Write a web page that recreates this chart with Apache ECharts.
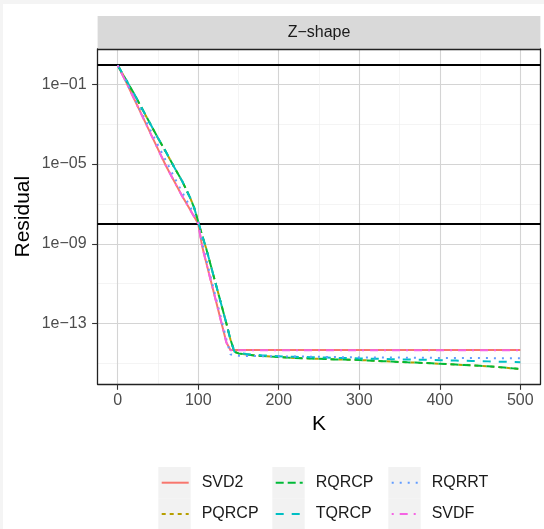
<!DOCTYPE html>
<html><head><meta charset="utf-8">
<script src="https://cdn.jsdelivr.net/npm/echarts@6/dist/echarts.min.js"></script>
<style>
html,body{margin:0;padding:0;background:#f4f4f4;width:544px;height:529px;overflow:hidden}
#c{position:absolute;left:3px;top:4px;width:541px;height:525px;background:#fff}
</style></head><body><div id="c"></div>
<script>
// K values (x)
const K = [0,10,20,30,40,50,60,70,80,90,95,100,105,110,115,120,125,130,135,140,145,150,
  160,170,180,190,200,210,220,230,240,250,260,270,280,290,300,310,320,330,340,350,360,370,380,390,400,
  410,420,430,440,450,460,470,480,490,500];

// log10(Residual), one value per K
const svd2Log10 = [-0.05,-0.85,-1.70,-2.55,-3.40,-4.25,-5.10,-5.85,-6.60,-7.30,-7.65,-8.00,-9.15,-9.95,-10.75,-11.55,-12.35,-13.15,-13.95,-14.33,-14.33,-14.33,
  -14.33,-14.33,-14.33,-14.33,-14.33,-14.33,-14.33,-14.33,-14.33,-14.33,-14.33,-14.33,-14.33,-14.33,-14.33,-14.33,-14.33,-14.33,-14.33,-14.33,-14.33,-14.33,-14.33,-14.33,-14.33,
  -14.33,-14.33,-14.33,-14.33,-14.33,-14.33,-14.33,-14.33,-14.33,-14.33];
const pqrcpLog10 = [-0.05,-0.76,-1.46,-2.21,-2.96,-3.71,-4.41,-5.15,-5.86,-6.70,-7.20,-7.90,-8.60,-9.25,-10.00,-10.75,-11.50,-12.25,-13.00,-13.80,-14.42,-14.50,
  -14.56,-14.60,-14.63,-14.66,-14.68,-14.71,-14.73,-14.74,-14.76,-14.77,-14.78,-14.80,-14.81,-14.82,-14.83,-14.85,-14.87,-14.89,-14.91,-14.93,-14.95,-14.96,-14.98,-15.00,-15.02,
  -15.04,-15.06,-15.08,-15.10,-15.12,-15.15,-15.18,-15.21,-15.25,-15.29];
const rqrcpLog10 = [-0.05,-0.75,-1.45,-2.20,-2.95,-3.70,-4.40,-5.15,-5.85,-6.70,-7.20,-7.90,-8.60,-9.25,-10.00,-10.75,-11.50,-12.25,-13.00,-13.80,-14.42,-14.50,
  -14.56,-14.60,-14.63,-14.66,-14.68,-14.71,-14.73,-14.74,-14.76,-14.77,-14.78,-14.80,-14.81,-14.82,-14.83,-14.85,-14.87,-14.89,-14.91,-14.93,-14.95,-14.96,-14.98,-15.00,-15.02,
  -15.04,-15.06,-15.08,-15.10,-15.12,-15.15,-15.18,-15.21,-15.25,-15.28];
const tqrcpLog10 = [-0.05,-0.75,-1.45,-2.20,-2.95,-3.70,-4.40,-5.15,-5.85,-6.70,-7.20,-7.90,-8.60,-9.25,-10.00,-10.75,-11.50,-12.25,-13.00,-13.80,-14.42,-14.48,
  -14.53,-14.57,-14.60,-14.62,-14.64,-14.66,-14.67,-14.68,-14.69,-14.70,-14.71,-14.72,-14.73,-14.74,-14.75,-14.76,-14.77,-14.78,-14.79,-14.80,-14.80,-14.81,-14.82,-14.83,-14.84,
  -14.85,-14.86,-14.87,-14.88,-14.89,-14.90,-14.91,-14.92,-14.93,-14.94];
const rqrrtLog10 = [-0.05,-0.82,-1.62,-2.45,-3.25,-4.05,-4.85,-5.65,-6.40,-7.15,-7.55,-7.95,-8.95,-9.80,-10.60,-11.40,-12.20,-13.00,-13.80,-14.55,-14.60,-14.62,
  -14.63,-14.63,-14.64,-14.64,-14.65,-14.65,-14.66,-14.66,-14.67,-14.67,-14.68,-14.68,-14.69,-14.69,-14.70,-14.70,-14.70,-14.71,-14.71,-14.71,-14.72,-14.72,-14.72,-14.72,-14.73,
  -14.73,-14.73,-14.73,-14.73,-14.73,-14.73,-14.74,-14.74,-14.74,-14.74];
const svdfLog10 = [-0.06,-0.86,-1.71,-2.56,-3.41,-4.26,-5.10,-5.86,-6.61,-7.31,-7.66,-8.01,-9.16,-9.96,-10.76,-11.56,-12.36,-13.16,-13.96,-14.34,-14.34,-14.34,
  -14.34,-14.34,-14.34,-14.34,-14.34,-14.34,-14.34,-14.34,-14.34,-14.34,-14.34,-14.34,-14.34,-14.34,-14.34,-14.34,-14.34,-14.34,-14.34,-14.34,-14.34,-14.34,-14.34,-14.34,-14.34,
  -14.34,-14.34,-14.34,-14.34,-14.34,-14.34,-14.34,-14.34,-14.34,-14.34];

const seriesNames = ['SVD2','PQRCP','RQRCP','TQRCP','RQRRT','SVDF'];
const seriesData = [svd2Log10, pqrcpLog10, rqrcpLog10, tqrcpLog10, rqrrtLog10, svdfLog10];
const hlines = [1, 1e-8];
const xTicks = [0,100,200,300,400,500];
const xMinor = [50,150,250,350,450];
const yTickExps = [-13,-9,-5,-1];
const yMinorExps = [-15,-11,-7,-3];
const panelTitle = 'Z\u2212shape';
const xTitle = 'K';
const yTitle = 'Residual';

const colors = ['#F8766D','#B79F00','#00BA38','#00BFC4','#619CFF','#F564E3'];
const dashes = ['solid',[4,4],[8,4],[8,8],[2,6],[2,6,8,6]];
const FONT = '"Liberation Sans", Arial, Helvetica, sans-serif';

const G = {left:94.6, right:3.6, top:45, bottom:144.7};
const W = 541, H = 525;
const pw = W - G.left - G.right;

function fmtExp(v){
  const e = Math.round(v);
  return '1e' + (e < 0 ? '\u2212' : '+') + String(Math.abs(e)).padStart(2,'0');
}

const series = seriesNames.map((n,i)=>({
  name:n, type:'line', xAxisIndex:0, yAxisIndex:0,
  data:K.map((k,j)=>[k, seriesData[i][j]]),
  symbol:'none', showSymbol:false, animation:false,
  lineStyle:{color:colors[i], width:2, type:dashes[i], cap:'butt'},
  itemStyle:{color:colors[i]},
  z:3+i
}));
series.push({
  name:'hline', type:'line', data:[], xAxisIndex:0, yAxisIndex:0,
  markLine:{symbol:'none', silent:true, animation:false, label:{show:false},
    lineStyle:{color:'#000', width:2, type:'solid'},
    data:hlines.map(v=>({yAxis:Math.log10(v)}))},
  z:10
});

const legendLeft = [157.7, 271.7, 387.7];
const keyX = [155.3, 269.3, 385.3];
const rowC = [478.7, 510];
const legends = [0,1,2].map(c=>({
  data:[seriesNames[2*c], seriesNames[2*c+1]],
  orient:'vertical', left:legendLeft[c], top:rowC[0]-8,
  itemWidth:27, itemHeight:16, itemGap:15.3, padding:0,
  selectedMode:false,
  itemStyle:{opacity:0},
  textStyle:{fontFamily:FONT, fontSize:16, color:'#1a1a1a', lineHeight:16, padding:[0,0,0,8]}
}));

const graphics = [];
keyX.forEach(x=>rowC.forEach(y=>graphics.push({type:'rect', shape:{x:x, y:y-15.65, width:32.4, height:31.3}, style:{fill:'#f2f2f2'}, z:-1})));
graphics.push({type:'rect', shape:{x:G.left, y:12, width:pw, height:33}, style:{fill:'#d9d9d9'}, z:-1});
graphics.push({type:'text', x:G.left+pw/2, y:28.5, style:{text:panelTitle, fontFamily:FONT, fontSize:16, fill:'#1a1a1a', align:'center', verticalAlign:'middle'}});
graphics.push({type:'text', x:G.left+pw/2, y:420, style:{text:xTitle, fontFamily:FONT, fontSize:21, fill:'#000', align:'center', verticalAlign:'middle'}});
graphics.push({type:'text', x:20, y:G.top+(H-G.top-G.bottom)/2, rotation:Math.PI/2, style:{text:yTitle, fontFamily:FONT, fontSize:21, fill:'#000', align:'center', verticalAlign:'middle'}});

const frame = {show:true, onZero:false, lineStyle:{color:'#222', width:1.3}};
const majorSplit = {show:true, lineStyle:{color:'#d4d4d4', width:1.1}};
const minorSplit = {show:true, lineStyle:{color:'#ededed', width:0.6}};

const option = {
  backgroundColor:'#fff',
  animation:false,
  grid:{left:G.left, right:G.right, top:G.top, bottom:G.bottom, show:false},
  xAxis:[
    {type:'value', min:-25, max:525, position:'bottom',
     axisLine:frame, axisTick:{show:true, length:5.5, lineStyle:{color:'#333', width:1.1}, customValues:xTicks},
     axisLabel:{customValues:xTicks, color:'#4d4d4d', fontSize:16, fontFamily:FONT, margin:8},
     splitLine:majorSplit},
    {type:'value', min:-25, max:525, position:'top',
     axisLine:frame, axisTick:{show:false, customValues:xMinor}, axisLabel:{show:false, customValues:xMinor},
     splitLine:minorSplit}
  ],
  yAxis:[
    {type:'value', min:-16.05, max:0.77, position:'left',
     axisLine:frame, axisTick:{show:true, length:5.5, lineStyle:{color:'#333', width:1.1}, customValues:yTickExps},
     axisLabel:{customValues:yTickExps, formatter:fmtExp, color:'#4d4d4d', fontSize:16, fontFamily:FONT, margin:11},
     splitLine:majorSplit},
    {type:'value', min:-16.05, max:0.77, position:'right',
     axisLine:frame, axisTick:{show:false, customValues:yMinorExps}, axisLabel:{show:false, customValues:yMinorExps},
     splitLine:minorSplit}
  ],
  legend:legends,
  graphic:graphics,
  series:series
};
const chart = echarts.init(document.getElementById('c'), null, {renderer:'canvas'});
chart.setOption(option);
</script></body></html>
